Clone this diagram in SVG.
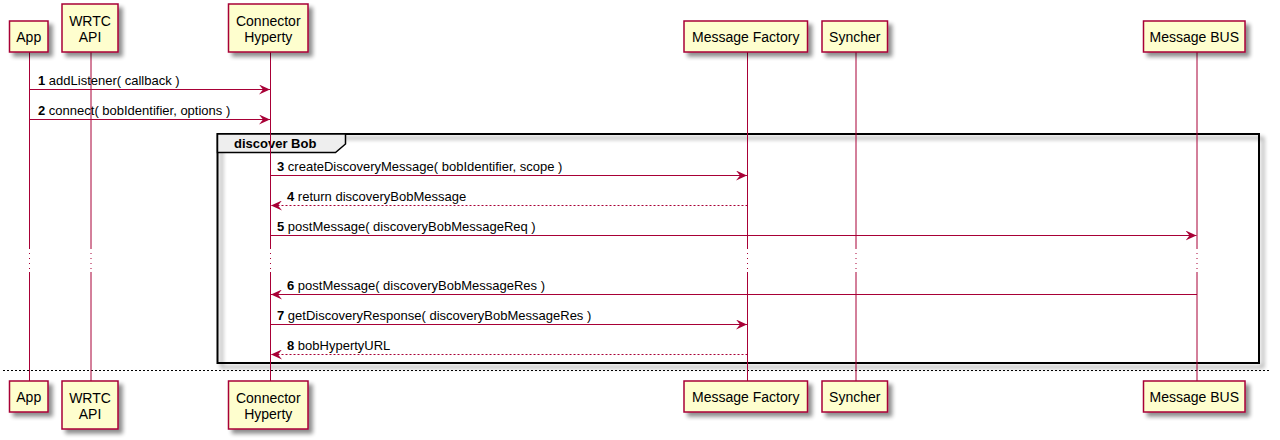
<svg xmlns="http://www.w3.org/2000/svg" width="1280" height="440" viewBox="0 0 1280 440">
<defs>
<filter id="sh" x="-20%" y="-20%" width="150%" height="150%">
<feGaussianBlur in="SourceAlpha" stdDeviation="2"/>
<feOffset dx="4" dy="4" result="b"/>
<feComponentTransfer><feFuncA type="linear" slope="0.45"/></feComponentTransfer>
<feMerge><feMergeNode/><feMergeNode in="SourceGraphic"/></feMerge>
</filter>
<marker id="ah" viewBox="0 0 11 10" refX="11" refY="5" markerWidth="11" markerHeight="10" markerUnits="userSpaceOnUse" orient="auto">
<polygon points="0,0 11,5 0,10 4,5" fill="#A80036"/>
</marker>
</defs>
<style>
.box{fill:#FEFECE;stroke:#A80036;stroke-width:1.5}
.pt{font-family:"Liberation Sans",Arial,sans-serif;font-size:14px;fill:#000;text-anchor:middle}
.life{stroke:#A80036;stroke-width:1;fill:none}
.dot{stroke:#A80036;stroke-width:1;stroke-dasharray:1,4;fill:none}
.msg{stroke:#A80036;stroke-width:1;fill:none;marker-end:url(#ah)}
.ret{stroke:#A80036;stroke-width:1;fill:none;stroke-dasharray:2,2;marker-end:url(#ah)}
.lbl{font-family:"Liberation Sans",Arial,sans-serif;font-size:13px;fill:#000}
.num{font-weight:bold}
</style>
<rect width="1280" height="440" fill="#FFFFFF"/>

<g id="frame">
<rect x="217.5" y="134" width="1041.5" height="229" fill="none" stroke="#000" stroke-width="2" filter="url(#sh)"/>
<polygon points="217.5,134 345.5,134 345.5,144 335.5,152.5 217.5,152.5" fill="#EEEEEE" stroke="#000" stroke-width="1.5"/>
<text x="234" y="148" class="lbl" font-weight="bold">discover Bob</text>
</g>

<line id="divider" x1="3" y1="370.5" x2="1270" y2="370.5" stroke="#000" stroke-width="1" stroke-dasharray="2,2"/>

<g id="lifelines">
<line class="life" x1="29.5" y1="52" x2="29.5" y2="248"/><line class="dot" x1="29.5" y1="248" x2="29.5" y2="272"/><line class="life" x1="29.5" y1="272" x2="29.5" y2="381"/>
<line class="life" x1="91" y1="52" x2="91" y2="248"/><line class="dot" x1="91" y1="248" x2="91" y2="272"/><line class="life" x1="91" y1="272" x2="91" y2="381"/>
<line class="life" x1="270.5" y1="52" x2="270.5" y2="248"/><line class="dot" x1="270.5" y1="248" x2="270.5" y2="272"/><line class="life" x1="270.5" y1="272" x2="270.5" y2="381"/>
<line class="life" x1="747.5" y1="52" x2="747.5" y2="248"/><line class="dot" x1="747.5" y1="248" x2="747.5" y2="272"/><line class="life" x1="747.5" y1="272" x2="747.5" y2="381"/>
<line class="life" x1="856" y1="52" x2="856" y2="248"/><line class="dot" x1="856" y1="248" x2="856" y2="272"/><line class="life" x1="856" y1="272" x2="856" y2="381"/>
<line class="life" x1="1197" y1="52" x2="1197" y2="248"/><line class="dot" x1="1197" y1="248" x2="1197" y2="272"/><line class="life" x1="1197" y1="272" x2="1197" y2="381"/>
</g>

<g id="p-app">
<rect class="box" x="9.5" y="21" width="38.5" height="31" filter="url(#sh)"/>
<text class="pt" x="28.75" y="42">App</text>
<rect class="box" x="9.5" y="381" width="38.5" height="31" filter="url(#sh)"/>
<text class="pt" x="28.75" y="402">App</text>
</g>
<g id="p-wrtc">
<rect class="box" x="62" y="4" width="56" height="48" filter="url(#sh)"/>
<text class="pt" x="90" y="25.5">WRTC</text><text class="pt" x="90" y="42">API</text>
<rect class="box" x="62" y="381" width="56" height="48" filter="url(#sh)"/>
<text class="pt" x="90" y="402.5">WRTC</text><text class="pt" x="90" y="419">API</text>
</g>
<g id="p-connector">
<rect class="box" x="228.5" y="4" width="79.5" height="48" filter="url(#sh)"/>
<text class="pt" x="268.25" y="25.5">Connector</text><text class="pt" x="268.25" y="42">Hyperty</text>
<rect class="box" x="228.5" y="381" width="79.5" height="48" filter="url(#sh)"/>
<text class="pt" x="268.25" y="402.5">Connector</text><text class="pt" x="268.25" y="419">Hyperty</text>
</g>
<g id="p-factory">
<rect class="box" x="684" y="21" width="123.5" height="31" filter="url(#sh)"/>
<text class="pt" x="745.75" y="42">Message Factory</text>
<rect class="box" x="684" y="381" width="123.5" height="31" filter="url(#sh)"/>
<text class="pt" x="745.75" y="402">Message Factory</text>
</g>
<g id="p-syncher">
<rect class="box" x="822" y="21" width="65.5" height="31" filter="url(#sh)"/>
<text class="pt" x="854.75" y="42">Syncher</text>
<rect class="box" x="822" y="381" width="65.5" height="31" filter="url(#sh)"/>
<text class="pt" x="854.75" y="402">Syncher</text>
</g>
<g id="p-bus">
<rect class="box" x="1143.5" y="21" width="101.5" height="31" filter="url(#sh)"/>
<text class="pt" x="1194.25" y="42">Message BUS</text>
<rect class="box" x="1143.5" y="381" width="101.5" height="31" filter="url(#sh)"/>
<text class="pt" x="1194.25" y="402">Message BUS</text>
</g>

<g id="connectors">
<line class="msg" x1="29.5" y1="89.5" x2="270" y2="89.5"/>
<text class="lbl" x="38" y="84.5"><tspan class="num">1</tspan> addListener( callback )</text>
<line class="msg" x1="29.5" y1="119.5" x2="270" y2="119.5"/>
<text class="lbl" x="38" y="114.5"><tspan class="num">2</tspan> connect( bobIdentifier, options )</text>
<line class="msg" x1="270.5" y1="175.5" x2="747" y2="175.5"/>
<text class="lbl" x="277" y="170.5"><tspan class="num">3</tspan> createDiscoveryMessage( bobIdentifier, scope )</text>
<line class="ret" x1="747.5" y1="205.5" x2="271" y2="205.5"/>
<text class="lbl" x="287" y="200.5"><tspan class="num">4</tspan> return discoveryBobMessage</text>
<line class="msg" x1="270.5" y1="235.5" x2="1196.5" y2="235.5"/>
<text class="lbl" x="277" y="230.5"><tspan class="num">5</tspan> postMessage( discoveryBobMessageReq )</text>
<line class="msg" x1="1197" y1="294.5" x2="271" y2="294.5"/>
<text class="lbl" x="287" y="289.5"><tspan class="num">6</tspan> postMessage( discoveryBobMessageRes )</text>
<line class="msg" x1="270.5" y1="324.5" x2="747" y2="324.5"/>
<text class="lbl" x="277" y="319.5"><tspan class="num">7</tspan> getDiscoveryResponse( discoveryBobMessageRes )</text>
<line class="ret" x1="747.5" y1="354.5" x2="271" y2="354.5"/>
<text class="lbl" x="287" y="349.5"><tspan class="num">8</tspan> bobHypertyURL</text>
</g>
</svg>
